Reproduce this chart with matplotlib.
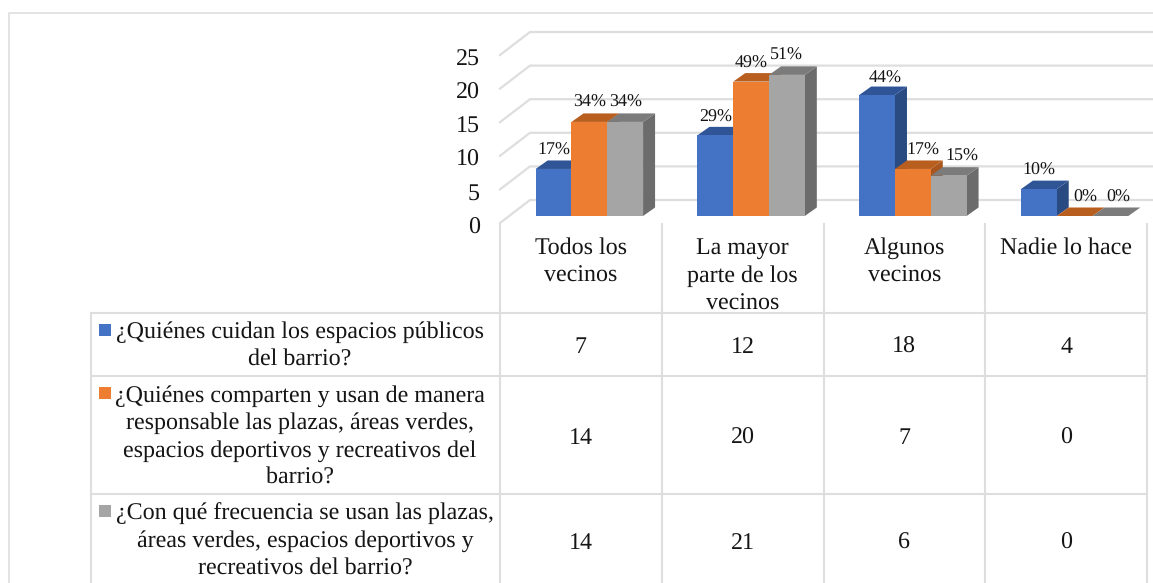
import numpy as np
import matplotlib
matplotlib.use('Agg')
import matplotlib.pyplot as plt

plt.rcParams['font.family'] = ['Liberation Serif', 'DejaVu Serif']
plt.rcParams['text.hinting'] = 'no_hinting'
plt.rcParams['text.hinting_factor'] = 1

categories = ['Todos los\nvecinos', 'La mayor\nparte de los\nvecinos', 'Algunos\nvecinos', 'Nadie lo hace']
cuidan = [7, 12, 18, 4]
comparten = [14, 20, 7, 0]
frecuencia = [14, 21, 6, 0]
pct_cuidan = ['17%', '29%', '44%', '10%']
pct_comparten = ['34%', '49%', '17%', '0%']
pct_frecuencia = ['34%', '51%', '15%', '0%']
legend_labels = ['¿Quiénes cuidan los espacios públicos\ndel barrio?',
                 '¿Quiénes comparten y usan de manera\nresponsable las plazas, áreas verdes,\nespacios deportivos y recreativos del\nbarrio?',
                 '¿Con qué frecuencia se usan las plazas,\náreas verdes, espacios deportivos y\nrecreativos del barrio?']
y_ticks = [0, 5, 10, 15, 20, 25]

W, H = 1153, 583
fig = plt.figure(figsize=(W / 100, H / 100), dpi=100)

# overlay in pixels for the frame and the table
bg = fig.add_axes([0, 0, 1, 1])
bg.set_xlim(0, W)
bg.set_ylim(H, 0)
bg.axis('off')

# chart axes: y=0 sits at the front of the bars
px_unit = 6.72
col_w = 161.75
x_left = 500
y0 = 216
ax = fig.add_axes([x_left / W, 1 - y0 / H, col_w * 4 / W, 25 * px_unit / H])
ax.set_xlim(-0.5, 3.5)
ax.set_ylim(0, 25)
ax.axis('off')

grid = '#dedede'
fs_big = 17.2
fs_label = 13.2
ink = '#151515'

# frame
bg.plot([9, 9, W], [H, 12.5, 12.5], color=grid, lw=1.2)

# back wall grid and side wall diagonals
dx_px, dy_px = 30 / col_w, 16 / px_unit
for v in y_ticks:
    ax.plot([-0.5, -0.5 + dx_px, 3.5 + 6 / col_w], [v - 7 / px_unit, v + dy_px, v + dy_px],
            color=grid, lw=1.6, clip_on=False, zorder=1)

# bars
series = [cuidan, comparten, frecuencia]
fronts = ['#4472C4', '#ED7D31', '#A5A5A5']
tops = ['#2F5597', '#B85F20', '#7B7B7B']
sides = ['#2A4A82', '#A8561D', '#6C6C6C']
bar_w = 35.8 / col_w
depth_x, depth_y = 12 / col_w, 8.5 / px_unit
group_shift = 8.5 / col_w

z = 3
for j in range(3):
    for i, cat in enumerate(categories):
        left = i + group_shift - 1.5 * bar_w + j * bar_w
        h = series[j][i]
        r = left + bar_w
        ax.fill([r, r + depth_x, r + depth_x, r], [0, depth_y, h + depth_y, h],
                color=sides[j], lw=0, clip_on=False, zorder=z)
        ax.fill([left, left + depth_x, r + depth_x, r], [h, h + depth_y, h + depth_y, h],
                color=tops[j], lw=0, clip_on=False, zorder=z)
        ax.bar(left, h, width=bar_w, align='edge', color=fronts[j], lw=0, clip_on=False, zorder=z + 0.5)
    z += 1

# data labels, nudged per bar as in the original
pcts = [pct_cuidan, pct_comparten, pct_frecuencia]
nudge_x = [[0, 0, 8, 0], [0, 0, 10, 11], [0, 0, 13, 8]]
nudge_y = [[19, 18, 17, 19], [19, 18, 19, 19], [19, 19, 19, 19]]
for j in range(3):
    for i in range(4):
        cx = i + group_shift - bar_w + j * bar_w
        ax.annotate(pcts[j][i], (cx, series[j][i]), xytext=(nudge_x[j][i] * 0.72, nudge_y[j][i] * 0.72),
                    textcoords='offset points', ha='center', va='center',
                    fontsize=fs_label, color=ink, annotation_clip=False, zorder=20)

# y tick labels
for v in y_ticks:
    ax.annotate(str(v), (-0.5, v), xytext=(-20 * 0.72, -11.5 * 0.72), textcoords='offset points',
                ha='right', va='center', fontsize=fs_big, color=ink, annotation_clip=False)

# table lines
col_x = [x_left + col_w * k for k in range(5)]
rows_y = [313, 376, 494]
for k, cx in enumerate(col_x):
    bg.plot([cx, cx], [224, H], color=grid, lw=1.5)
bg.plot([91, 91], [313, H], color=grid, lw=1.5)
for ry in rows_y:
    bg.plot([91, col_x[-1]], [ry, ry], color=grid, lw=1.5)

# category headers
for i, cat in enumerate(categories):
    cx = x_left + col_w * (i + 0.5)
    for n, line in enumerate(cat.split('\n')):
        bg.text(cx, 248 + 28 * n, line, ha='center', va='center', fontsize=fs_big, color=ink)

# table rows: swatch, question, values
first_line = [331, 394, 512]
text_line = [332, 396, 514]
text_x = [300, 300, 305]
row_mid = [347, 438, 543]
pitch = 27.4
for j in range(3):
    bg.fill([99, 111, 111, 99], [first_line[j] - 7, first_line[j] - 7, first_line[j] + 5, first_line[j] + 5],
            color=fronts[j], lw=0)
    for n, line in enumerate(legend_labels[j].split('\n')):
        bg.text(text_x[j], text_line[j] + pitch * n, line, ha='center', va='center', fontsize=fs_big, color=ink)
    for i in range(4):
        bg.text(x_left + col_w * (i + 0.5), row_mid[j], str(series[j][i]), ha='center', va='center',
                fontsize=fs_big, color=ink)

fig.savefig('out.png', dpi=100)
